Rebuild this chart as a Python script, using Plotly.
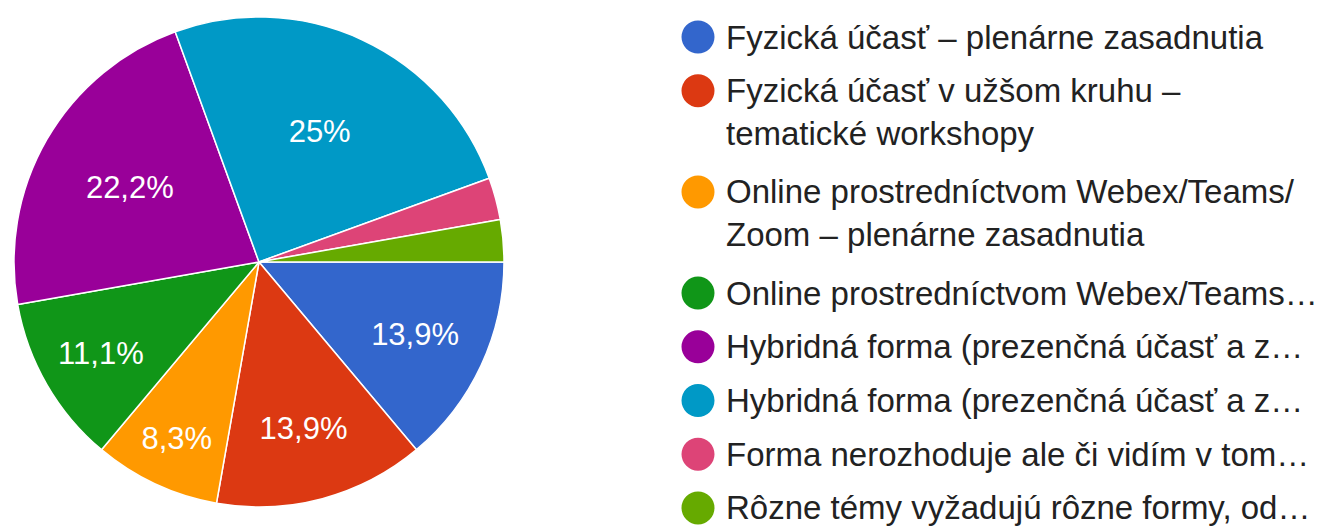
import plotly.graph_objects as go

categories = [
    "Fyzická účasť – plenárne zasadnutia",
    "Fyzická účasť v užšom kruhu –<br>tematické workshopy",
    "Online prostredníctvom Webex/Teams/<br>Zoom – plenárne zasadnutia",
    "Online prostredníctvom Webex/Teams…",
    "Hybridná forma (prezenčná účasť a z…",
    "Hybridná forma (prezenčná účasť a z…",
    "Forma nerozhoduje ale či vidím v tom…",
    "Rôzne témy vyžadujú rôzne formy, od…",
]
counts = [5, 5, 3, 4, 8, 9, 1, 1]
pct_labels = ["13,9%", "13,9%", "8,3%", "11,1%", "22,2%", "25%", "", ""]
colors = ["#3366cc", "#dc3912", "#ff9900", "#109618",
          "#990099", "#0099c6", "#dd4477", "#66aa00"]

FONT = "Liberation Sans, Arial, sans-serif"
W, H = 1322, 528
OFF = 8  # page body margin of the exported html

fig = go.Figure()
fig.add_trace(go.Pie(
    labels=[f"c{i}" for i in range(len(counts))],
    values=counts,
    text=pct_labels,
    texttemplate="%{text}",
    textposition="inside",
    insidetextorientation="horizontal",
    textfont=dict(family=FONT, size=31, color="white"),
    marker=dict(colors=colors, line=dict(color="white", width=1.5)),
    sort=False,
    direction="clockwise",
    rotation=90,
    showlegend=False,
    hoverinfo="skip",
    domain=dict(x=[6 / W, 496 / W], y=[29 / H, 519 / H]),
))

# ---- legend (circle swatches + labels) ----
LEG_FONT = 33.0
LINE_H = 1.3 * LEG_FONT
first_center = 37.0      # page px, centre of the first line of first item
pitch = 53.7             # distance between single-line items
extra_line = 47.5        # extra distance per additional wrapped line
circle_x = 698.0
text_x = 723.5
r = 16.5

shapes, annotations = [], []
yc = first_center
for cat, col in zip(categories, colors):
    nlines = cat.count("<br>") + 1
    ypaper = 1 - (yc - OFF) / H
    shapes.append(dict(
        type="circle", xref="paper", yref="paper",
        xsizemode="pixel", ysizemode="pixel",
        xanchor=(circle_x - OFF) / W, yanchor=ypaper,
        x0=-r, x1=r, y0=-r, y1=r,
        fillcolor=col, line=dict(width=0),
    ))
    block_center = yc + (nlines - 1) * LINE_H / 2
    annotations.append(dict(
        text=cat, xref="paper", yref="paper",
        x=(text_x - OFF) / W, y=1 - (block_center - OFF) / H,
        xanchor="left", yanchor="middle", align="left",
        showarrow=False,
        font=dict(family=FONT, size=LEG_FONT, color="#222222"),
    ))
    yc += pitch + (nlines - 1) * extra_line

fig.update_layout(
    width=W, height=H,
    margin=dict(l=0, r=0, t=0, b=0),
    paper_bgcolor="white", plot_bgcolor="white",
    showlegend=False,
    shapes=shapes,
    annotations=annotations,
)

fig.write_html("out.html")
